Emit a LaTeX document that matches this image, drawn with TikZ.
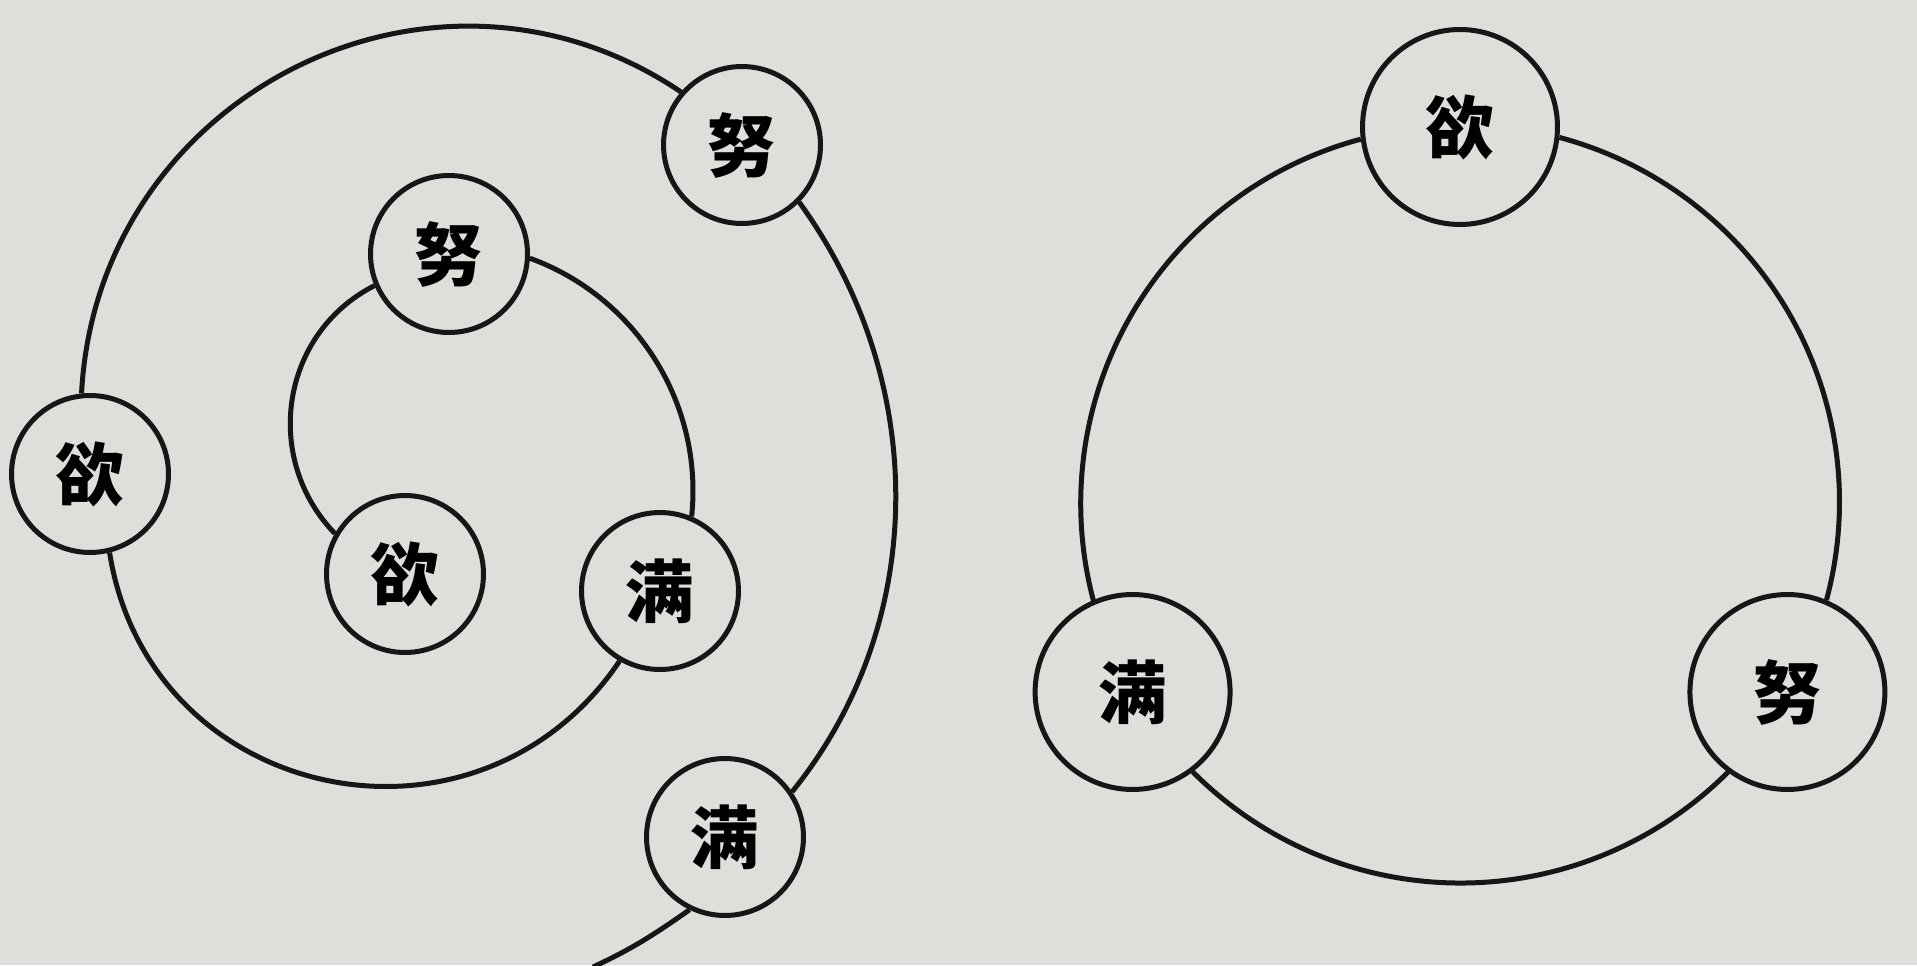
\documentclass[tikz,border=0pt]{standalone}
\usepackage{fontspec}
\newfontfamily\cjk{Noto Sans CJK SC}
\definecolor{paper}{RGB}{222,222,219}
\definecolor{ink}{RGB}{22,22,22}
\tikzset{
  ring/.style = {circle, draw = ink, line width = .1cm, inner sep = 0pt,
                 minimum size = 3.14cm,
                 font = \cjk\bfseries\fontsize{39}{42}\selectfont},
  bigring/.style = {ring, minimum size = 3.9cm},
  spiral/.style = {draw = ink, line width = .1cm}
}
\begin{document}
\begin{tikzpicture}[x = .02cm, y = .02cm]
  \fill [paper] (0,0) rectangle (1917,965);
  \useasboundingbox (0,0) rectangle (1917,965);
  % left: the spiral
  \node [ring] (nuO)  at (742,820) {努};
  \node [ring] (yuO)  at (90,491)  {欲};
  \node [ring] (manO) at (725,128) {满};
  \node [ring] (nuI)  at (449,711) {努};
  \node [ring] (yuI)  at (405,391) {欲};
  \node [ring] (manI) at (660,374) {满};
  \coordinate (tail) at (593,-2);
  \draw [spiral] (tail) to [out = 25, in = 215] (manO.244);
  \draw [spiral] (manO.34) to [out = 51, in = -54, looseness = .95] (nuO.315);
  \draw [spiral] (nuO.139) to [out = 146, in = 87, looseness = 1.14] (yuO.96);
  \draw [spiral] (yuO.284) to [out = -81, in = 236, looseness = 1.25] (manI.240);
  \draw [spiral] (manI.67) to [out = 84, in = -20, looseness = .95] (nuI.357);
  \draw [spiral] (nuI.203) to [out = 207, in = 134, looseness = 1.07] (yuI.150);
  % right: the circle
  \node [bigring] (yuR)  at (1460,838)    {欲};
  \node [bigring] (manR) at (1132.6,273)  {满};
  \node [bigring] (nuR)  at (1787.4,273)  {努};
  \draw [spiral] (yuR.187) arc [start angle = 104.9, end angle = 195.1, radius = 377];
  \draw [spiral] (manR.307) arc [start angle = 224.9, end angle = 315.1, radius = 378];
  \draw [spiral] (nuR.67) arc [start angle = 344.9, end angle = 435.1, radius = 377];
\end{tikzpicture}
\end{document}
